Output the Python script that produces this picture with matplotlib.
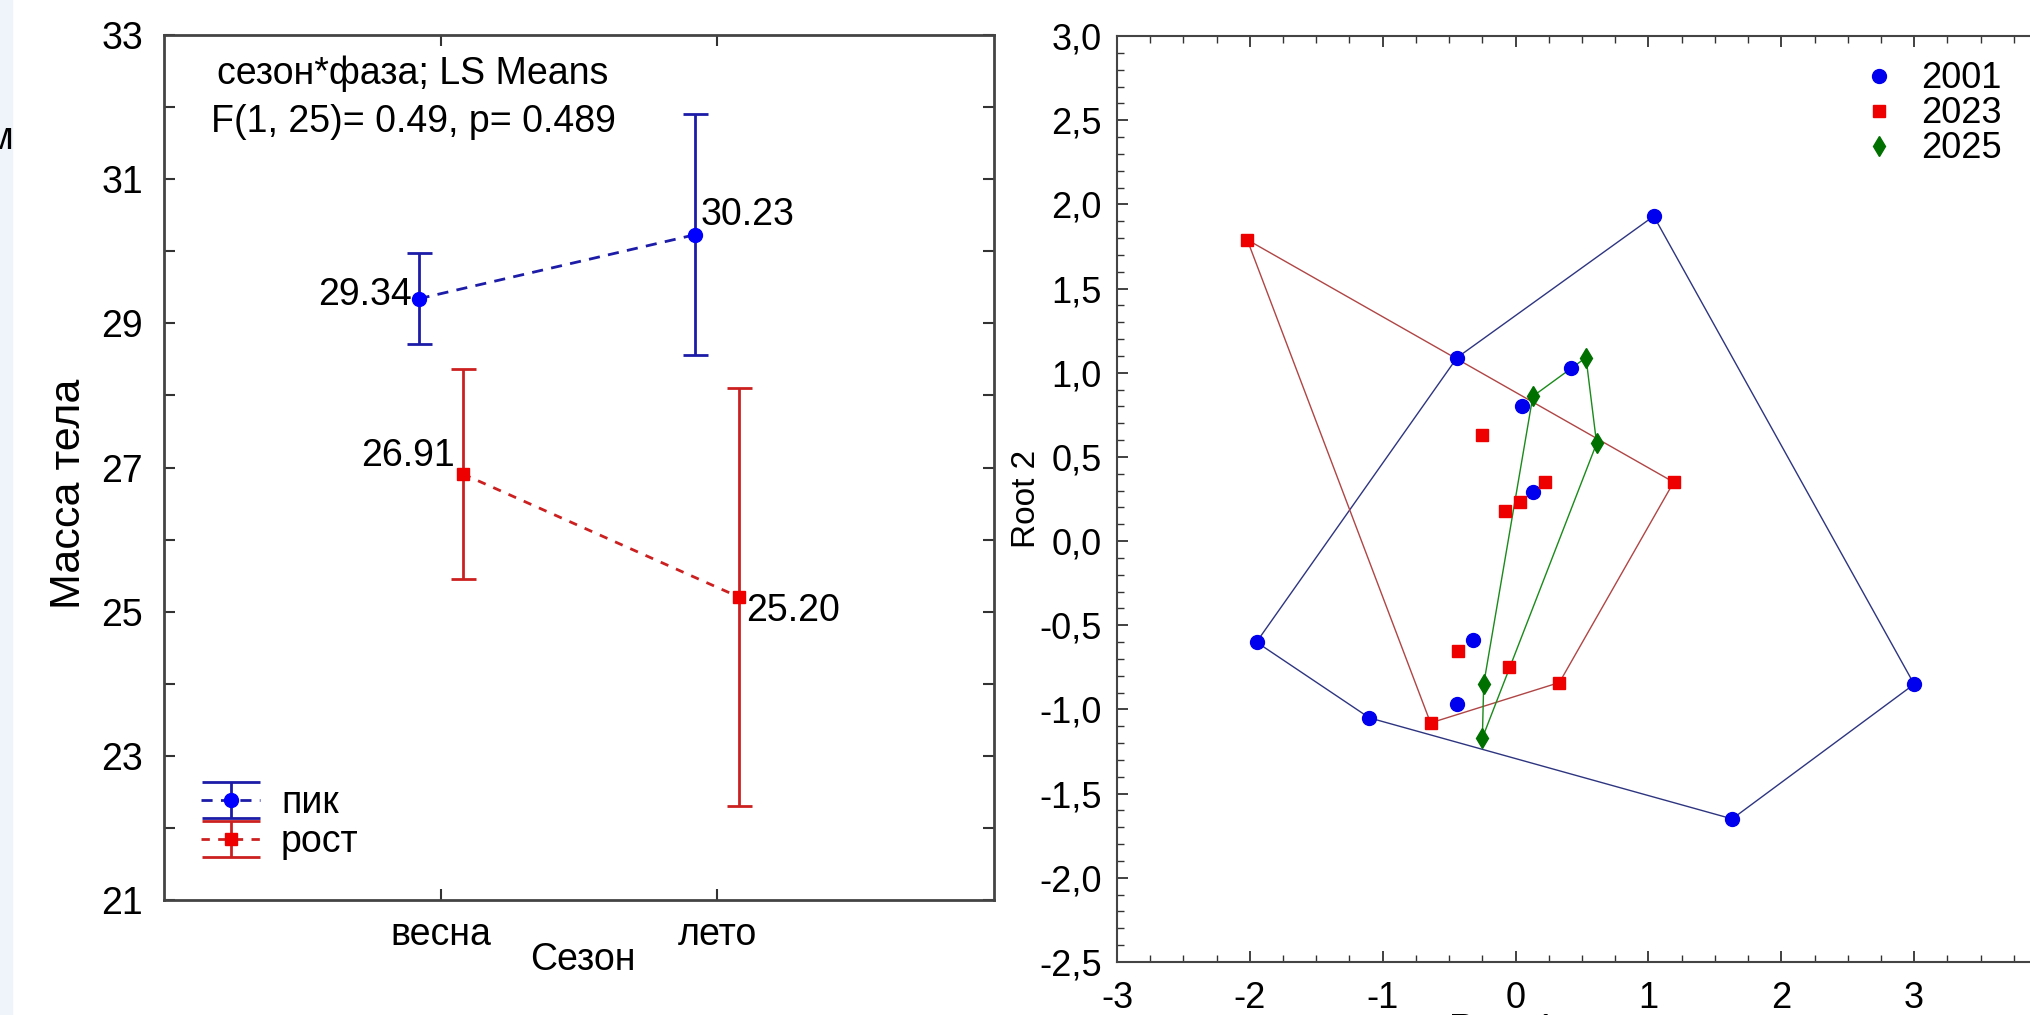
import matplotlib
matplotlib.use("Agg")
import matplotlib.pyplot as plt
from matplotlib.ticker import MultipleLocator, FuncFormatter
from matplotlib.legend_handler import HandlerErrorbar
from matplotlib.patches import Rectangle

plt.rcParams['font.family'] = ['Liberation Sans', 'DejaVu Sans']

# left panel: LS means by season and phase
seasons = ["весна", "лето"]
phases = ["пик", "рост"]
peak_means = [29.34, 30.23]
peak_err = [0.63, 1.67]
growth_means = [26.91, 25.20]
growth_err = [1.45, 2.90]

# right panel: canonical scores, Root 1 vs Root 2
years = ["2001", "2023", "2025"]
r1_2001 = [1.04, -0.44, 0.42, 0.05, 0.13, -1.95, -0.32, -0.44, -1.10, 1.63, 3.00]
r2_2001 = [1.93, 1.09, 1.03, 0.80, 0.29, -0.60, -0.59, -0.97, -1.05, -1.65, -0.85]
r1_2023 = [-2.02, -0.25, 1.19, 0.22, 0.03, -0.08, -0.43, -0.05, 0.33, -0.64]
r2_2023 = [1.79, 0.63, 0.35, 0.35, 0.23, 0.18, -0.65, -0.75, -0.84, -1.08]
r1_2025 = [0.53, 0.13, 0.61, -0.24, -0.25]
r2_2025 = [1.09, 0.86, 0.58, -0.85, -1.17]


def hull(xs, ys):
    pts = sorted(set(zip(xs, ys)))

    def cross(o, a, b):
        return (a[0] - o[0]) * (b[1] - o[1]) - (a[1] - o[1]) * (b[0] - o[0])

    lower = []
    for p in pts:
        while len(lower) >= 2 and cross(lower[-2], lower[-1], p) <= 0:
            lower.pop()
        lower.append(p)
    upper = []
    for p in reversed(pts):
        while len(upper) >= 2 and cross(upper[-2], upper[-1], p) <= 0:
            upper.pop()
        upper.append(p)
    h = lower[:-1] + upper[:-1]
    h.append(h[0])
    return [p[0] for p in h], [p[1] for p in h]


class WideCaps(HandlerErrorbar):
    def create_artists(self, *args, **kw):
        arts = super().create_artists(*args, **kw)
        for a in arts:
            if hasattr(a, "get_marker") and a.get_marker() == "_":
                a.set_markersize(42)
        return arts


fig = plt.figure(figsize=(20.3, 10.15), dpi=100)
fig.patches.append(Rectangle((0, 0), 12 / 2030, 1, transform=fig.transFigure,
                             color="#eef4fa", zorder=0))
fig.text(-14 / 2030, 1 - 139 / 1015, "м", fontsize=28, va="center", ha="left")

# ---------------- left panel ----------------
fs = 27
ax = fig.add_axes([164 / 2030, 1 - 900 / 1015, 830 / 2030, 865 / 1015])
pos = [1, 2]
xb = [p - 0.08 for p in pos]
xr = [p + 0.08 for p in pos]

eb1 = ax.errorbar(xb, peak_means, yerr=peak_err, fmt="o", color="#0000ff",
                  ecolor="#1c1ca8", elinewidth=2, capsize=9, capthick=2,
                  markersize=10, ls=(0, (4, 3)), lw=2, label=phases[0])
eb1.lines[0].set_color("#1c1ca8")
eb1.lines[0].set_markerfacecolor("#0000ff")
eb1.lines[0].set_markeredgecolor("#0000ff")
eb2 = ax.errorbar(xr, growth_means, yerr=growth_err, fmt="s", color="#ee0000",
                  ecolor="#cc2020", elinewidth=2, capsize=9, capthick=2,
                  markersize=9, ls=(0, (3, 3)), lw=2, label=phases[1])
eb2.lines[0].set_color("#cc2020")
eb2.lines[0].set_markerfacecolor("#ee0000")
eb2.lines[0].set_markeredgecolor("#ee0000")

ax.annotate(f"{peak_means[0]:.2f}", (xb[0], peak_means[0]), xytext=(-5, 3),
            textcoords="offset points", ha="right", va="center", fontsize=fs)
ax.annotate(f"{peak_means[1]:.2f}", (xb[1], peak_means[1]), xytext=(4, 14),
            textcoords="offset points", ha="left", va="center", fontsize=fs)
ax.annotate(f"{growth_means[0]:.2f}", (xr[0], growth_means[0]), xytext=(-6, 13),
            textcoords="offset points", ha="right", va="center", fontsize=fs)
ax.annotate(f"{growth_means[1]:.2f}", (xr[1], growth_means[1]), xytext=(5, -10),
            textcoords="offset points", ha="left", va="center", fontsize=fs)

ax.text(0.30, 0.955, "сезон*фаза; LS Means", transform=ax.transAxes,
        ha="center", va="center", fontsize=fs)
ax.text(0.30, 0.899, "F(1, 25)= 0.49, p= 0.489", transform=ax.transAxes,
        ha="center", va="center", fontsize=fs)

ax.set_xlim(0, 3)
ax.set_ylim(21, 33)
ax.set_xticks(pos)
ax.set_xticklabels(seasons)
ax.set_yticks(range(21, 34))
ax.set_yticklabels([str(v) if v % 2 == 1 else "" for v in range(21, 34)])
ax.tick_params(direction="in", length=8, width=1.5, top=True, right=True,
               labelsize=fs, pad=15, colors="#333333", labelcolor="black")
ax.tick_params(axis="x", pad=12)
for s in ax.spines.values():
    s.set_linewidth(2)
    s.set_color("#444444")

ax.set_ylabel("Масса тела", fontsize=31)
ax.yaxis.set_label_coords(-0.115, 0.47)
ax.yaxis.label.set_va("center")
ax.set_xlabel("Сезон", fontsize=fs)
ax.xaxis.set_label_coords(0.505, -0.069)
ax.xaxis.label.set_va("center")

ax.legend(handles=[eb1, eb2], loc="upper left",
          bbox_to_anchor=(186 / 2030, 1 - 770 / 1015),
          bbox_transform=fig.transFigure, frameon=False, fontsize=fs,
          handlelength=1.58, handletextpad=0.55, labelspacing=0.08,
          borderaxespad=0,
          handler_map={type(eb1): WideCaps(yerr_size=0.48)})

# ---------------- right panel ----------------
bx = fig.add_axes([1117 / 2030, 1 - 962 / 1015, 930 / 2030, 926 / 1015])
groups = [
    (r1_2001, r2_2001, "#0000ee", "#2e3580", "o", 10),
    (r1_2023, r2_2023, "#ee0000", "#b04545", "s", 9),
    (r1_2025, r2_2025, "#007000", "#1a8a1a", "d", 10),
]
for (xs, ys, mc, lc, mk, ms), yr in zip(groups, years):
    hx, hy = hull(xs, ys)
    bx.plot(hx, hy, color=lc, lw=1.0, zorder=2)
for (xs, ys, mc, lc, mk, ms), yr in zip(groups, years):
    bx.plot(xs, ys, ls="none", marker=mk, markersize=ms, color=mc,
            label=yr, zorder=3)

bx.set_xlim(-3, 4)
bx.set_ylim(-2.5, 3.0)
bx.xaxis.set_major_locator(MultipleLocator(1))
bx.xaxis.set_minor_locator(MultipleLocator(0.25))
bx.yaxis.set_major_locator(MultipleLocator(0.5))
bx.yaxis.set_minor_locator(MultipleLocator(0.1))
bx.xaxis.set_major_formatter(FuncFormatter(lambda v, p: f"{v:.0f}"))
bx.yaxis.set_major_formatter(FuncFormatter(lambda v, p: f"{v:.1f}".replace(".", ",")))
bx.tick_params(which="both", direction="in", top=True, right=True,
               colors="#333333", labelcolor="black")
bx.tick_params(which="major", length=8, width=1.3, labelsize=26)
bx.tick_params(which="minor", length=5, width=1.0)
bx.tick_params(axis="x", pad=14)
bx.tick_params(axis="y", pad=11)
for s in bx.spines.values():
    s.set_linewidth(1.5)
    s.set_color("#444444")

bx.set_ylabel("Root 2", fontsize=24)
bx.yaxis.set_label_coords(-0.097, 0.5)
bx.yaxis.label.set_va("center")
bx.set_xlabel("Root 1", fontsize=26)
bx.xaxis.set_label_coords(0.414, -0.055)
bx.xaxis.label.set_va("top")

bx.legend(loc="upper left", bbox_to_anchor=(1846 / 2030, 1 - 47 / 1015),
          bbox_transform=fig.transFigure, frameon=False, fontsize=26,
          handlelength=1.0, handletextpad=0.67, labelspacing=0.0,
          borderaxespad=0)

fig.savefig("out.png", dpi=100)
